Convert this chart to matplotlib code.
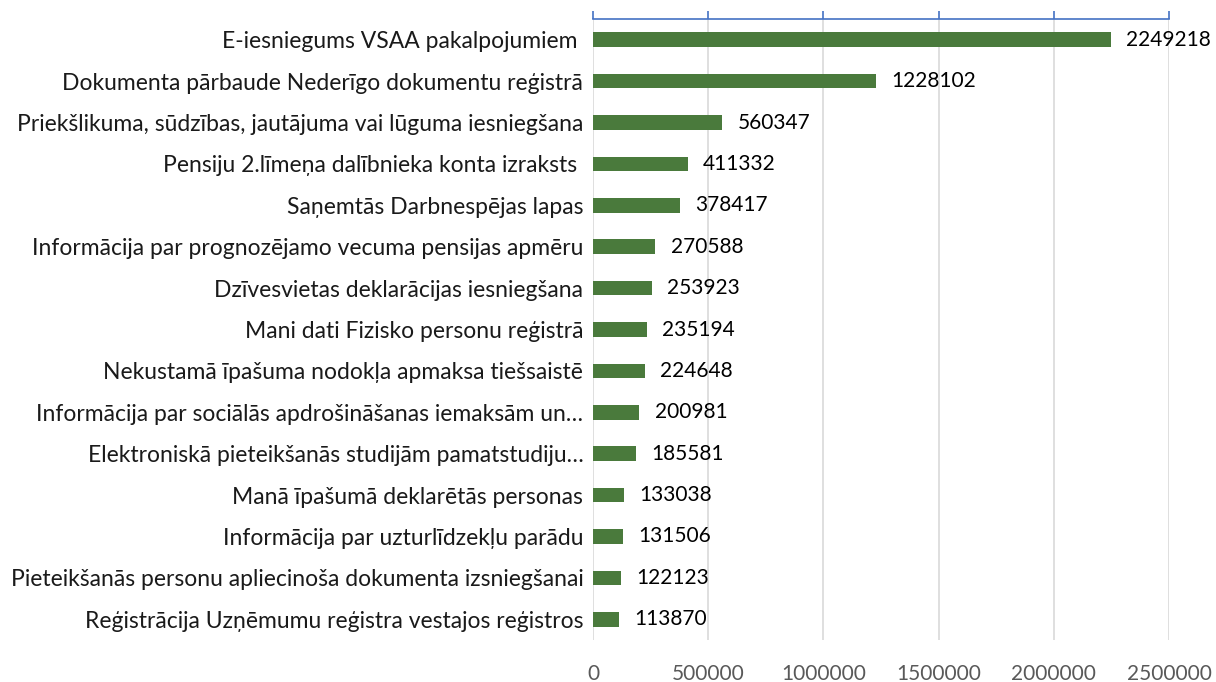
import matplotlib
matplotlib.use("Agg")
import matplotlib.pyplot as plt

plt.rcParams['font.family'] = ['Lato', 'DejaVu Sans']

services = [
    'E-iesniegums VSAA pakalpojumiem ',
    'Dokumenta pārbaude Nederīgo dokumentu reģistrā',
    'Priekšlikuma, sūdzības, jautājuma vai lūguma iesniegšana',
    'Pensiju 2.līmeņa dalībnieka konta izraksts ',
    'Saņemtās Darbnespējas lapas',
    'Informācija par prognozējamo vecuma pensijas apmēru',
    'Dzīvesvietas deklarācijas iesniegšana',
    'Mani dati Fizisko personu reģistrā',
    'Nekustamā īpašuma nodokļa apmaksa tiešsaistē',
    'Informācija par sociālās apdrošināšanas iemaksām un…',
    'Elektroniskā pieteikšanās studijām pamatstudiju…',
    'Manā īpašumā deklarētās personas',
    'Informācija par uzturlīdzekļu parādu',
    'Pieteikšanās personu apliecinoša dokumenta izsniegšanai',
    'Reģistrācija Uzņēmumu reģistra vestajos reģistros',
]
counts = [2249218, 1228102, 560347, 411332, 378417, 270588, 253923,
          235194, 224648, 200981, 185581, 133038, 131506, 122123, 113870]
xticks = [0, 500000, 1000000, 1500000, 2000000, 2500000]

green = '#4a7a3c'
fs = 16.5    # category labels
fs_num = 15  # numbers (Lato digits are wider than the original font)
fig = plt.figure(figsize=(12.16, 6.82), dpi=100)
ax = fig.add_axes([593/1216, 1 - 640/682, 576/1216, 621/682])

ypos = list(range(len(services)))
ax.barh(ypos, counts, height=0.35, color=green, zorder=3)
for y, v in zip(ypos, counts):
    ax.annotate(str(v), (v, y), xytext=(11, 0), textcoords='offset points',
                va='center', ha='left', fontsize=fs_num, color='black')

ax.set_ylim(len(services) - 0.5, -0.5)
ax.set_xlim(0, 2500000)
ax.set_yticks(ypos)
ax.set_yticklabels(services, fontsize=fs, color='#1a1a1a')
ax.set_xticks(xticks)
ax.set_xticklabels([str(t) for t in xticks], fontsize=fs_num, color='#595959')

ax.grid(axis='x', color='#d9d9d9', lw=1.2, zorder=0)
for s in ['left', 'right', 'bottom']:
    ax.spines[s].set_visible(False)
ax.spines['top'].set_color('#4472c4')
ax.spines['top'].set_linewidth(1.2)
ax.tick_params(axis='y', length=0, pad=7)
ax.tick_params(axis='x', top=True, bottom=False, labeltop=False,
               labelbottom=True, direction='out', length=6,
               color='#4472c4', width=1.2, pad=11)

fig.savefig('out.png', dpi=100)
